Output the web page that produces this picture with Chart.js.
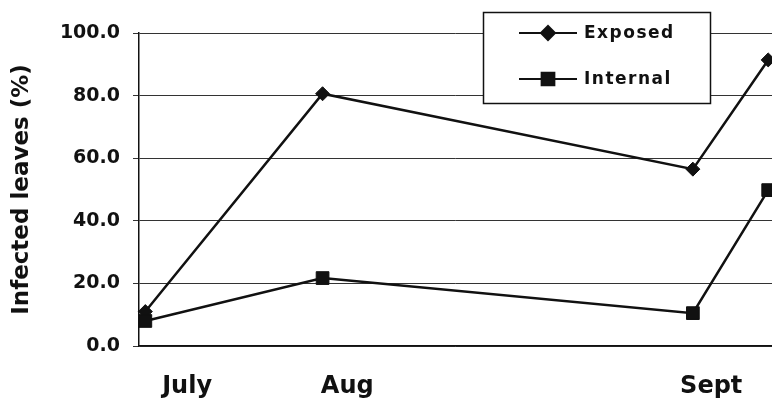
<!DOCTYPE html>
<html>
<head>
<meta charset="utf-8">
<script src="https://cdn.jsdelivr.net/npm/chart.js@4/dist/chart.umd.min.js"></script>
<style>
  body { margin: 0; background: #fff; }
  #wrap { width: 772px; height: 402px; }
</style>
</head>
<body>
<div id="wrap"><canvas id="chart" width="772" height="402"></canvas></div>
<script>
// sampling dates, as days into the season
var sampleDay = [1, 29, 87.5, 99.4];
var exposed = [11.0, 80.6, 56.5, 91.4];
var internal = [8.0, 21.7, 10.5, 49.8];

// month tick labels and where they sit on the day axis
var monthLabels = ["July", "Aug", "Sept"];
var monthDay = [7.6, 32.9, 90.4];

var INK = "#111";
var FONT = "'DejaVu Sans', Verdana, sans-serif";

function toPoints(vals) {
  var pts = [];
  for (var i = 0; i < vals.length; i++) {
    pts.push({ x: sampleDay[i], y: vals[i] });
  }
  return pts;
}

// boxed legend drawn inside the plot, top right
var boxLegend = {
  id: "boxLegend",
  afterDatasetsDraw: function(chart) {
    var ctx = chart.ctx;
    ctx.save();
    ctx.fillStyle = "#fff";
    ctx.fillRect(483, 12, 228, 92);
    ctx.strokeStyle = INK;
    ctx.lineWidth = 1.5;
    ctx.strokeRect(483.5, 12.5, 227, 91);

    var rows = [33, 79];
    chart.data.datasets.forEach(function(ds, i) {
      var y = rows[i];
      ctx.strokeStyle = INK;
      ctx.lineWidth = 2;
      ctx.beginPath();
      ctx.moveTo(519, y);
      ctx.lineTo(577, y);
      ctx.stroke();
      ctx.fillStyle = INK;
      Chart.helpers.drawPoint(ctx, {
        pointStyle: ds.pointStyle,
        radius: ds.pointRadius,
        borderWidth: 1
      }, 548, y);
      ctx.fillStyle = INK;
      ctx.font = "bold 17px " + FONT;
      ctx.letterSpacing = "1.5px";
      ctx.textBaseline = "middle";
      ctx.textAlign = "left";
      ctx.fillText(ds.label, 584, y + 1);
    });
    ctx.restore();
  }
};

var ctx = document.getElementById("chart").getContext("2d");
var chart = new Chart(ctx, {
  type: "line",
  data: {
    datasets: [
      {
        label: "Exposed",
        data: toPoints(exposed),
        borderColor: INK,
        backgroundColor: INK,
        borderWidth: 2.5,
        pointStyle: "rectRot",
        pointRadius: 7,
        pointBorderWidth: 1,
        clip: false,
        order: 1
      },
      {
        label: "Internal",
        data: toPoints(internal),
        borderColor: INK,
        backgroundColor: INK,
        borderWidth: 2.5,
        pointStyle: "rect",
        pointRadius: 9,
        pointBorderWidth: 1,
        clip: false,
        order: 0
      }
    ]
  },
  options: {
    responsive: false,
    animation: false,
    layout: { autoPadding: false, padding: { top: 33, right: 0, bottom: 0, left: 0 } },
    plugins: {
      legend: { display: false },
      tooltip: { enabled: false }
    },
    scales: {
      x: {
        type: "linear",
        min: 0,
        max: 100,
        grid: { display: false },
        border: { display: true, color: INK, width: 1.5 },
        afterBuildTicks: function(scale) {
          scale.ticks = monthDay.map(function(d) { return { value: d }; });
        },
        afterFit: function(scale) {
          scale.height = 56;
          scale.paddingLeft = 0;
          scale.paddingRight = 0;
        },
        ticks: {
          autoSkip: false,
          maxRotation: 0,
          padding: 18,
          color: INK,
          font: { family: FONT, size: 24, weight: "bold" },
          callback: function(v, i) { return monthLabels[i]; }
        }
      },
      y: {
        min: 0,
        max: 100,
        grid: { color: "#333", lineWidth: 1, tickLength: 6, drawTicks: true },
        border: { display: true, color: INK, width: 1.5 },
        afterFit: function(scale) { scale.width = 139; },
        ticks: {
          stepSize: 20,
          padding: 13,
          color: INK,
          font: { family: FONT, size: 19, weight: "bold" },
          callback: function(v) { return v.toFixed(1); }
        },
        title: {
          display: true,
          text: "Infected leaves (%)",
          color: INK,
          padding: { top: 8, bottom: 0 },
          font: { family: FONT, size: 23, weight: "bold" }
        }
      }
    }
  },
  plugins: [boxLegend]
});
</script>
</body>
</html>
